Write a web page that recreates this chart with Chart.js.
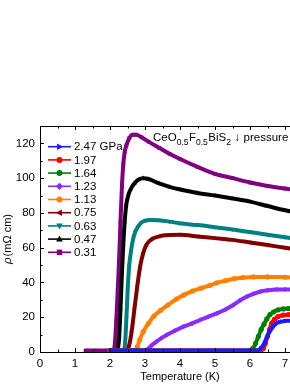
<!DOCTYPE html>
<html>
<head>
<meta charset="utf-8">
<script src="https://cdn.jsdelivr.net/npm/chart.js@4/dist/chart.umd.min.js"></script>
<style>
html, body { margin: 0; padding: 0; overflow: hidden; background: #fff; }
canvas { display: block; }
</style>
</head>
<body>
<canvas id="rho-chart" width="330" height="386" style="width:330px;height:386px"></canvas>
<script>
// pressures (GPa) and curve colours / markers, legend order
const pressureLabels = ['2.47 GPa', '1.97', '1.64', '1.23', '1.13', '0.75', '0.63', '0.47', '0.31'];
const xTicks = [0, 1, 2, 3, 4, 5, 6, 7, 8];
const yTicks = [0, 20, 40, 60, 80, 100, 120];

// temperature (K) / resistivity (mOhm cm)
const t247 = [2.0, 6.2, 6.3, 6.38, 6.46, 6.54, 6.62, 6.7, 6.78, 6.9, 7.05, 7.5, 8.0];
const r247 = [0.8, 0.8, 2, 4, 7.5, 11, 13.5, 15.5, 16.8, 17.5, 18, 18.2, 18.3];
const t197 = [2.0, 6.3, 6.38, 6.44, 6.5, 6.56, 6.62, 6.7, 6.8, 6.95, 7.1, 7.5, 8.0];
const r197 = [0.8, 0.8, 2, 5, 9, 13, 16.5, 18.8, 20.3, 21.2, 21.5, 21.7, 21.8];
const t164 = [2.0, 6.0, 6.08, 6.16, 6.24, 6.32, 6.4, 6.48, 6.57, 6.67, 6.8, 6.95, 7.1, 7.5, 8.0];
const r164 = [0.8, 0.8, 2, 5, 9, 13, 16, 19, 21.5, 23, 24.2, 24.8, 25, 25.2, 25.3];
const t123 = [2.0, 3.0, 3.1, 3.2, 3.33, 3.47, 3.62, 3.85, 4.1, 4.35, 4.57, 4.8, 5.05, 5.3, 5.52, 5.7, 5.9, 6.1, 6.3, 6.5, 6.76, 7.0, 7.5, 8.0];
const r123 = [0.8, 0.8, 2, 4, 6, 8, 9.8, 12.2, 14.6, 16.5, 18.4, 20.2, 22.2, 24.5, 27, 29.5, 31.8, 33.5, 34.8, 35.5, 36, 36, 36, 36];
const t113 = [2.0, 2.72, 2.78, 2.85, 2.95, 3.1, 3.25, 3.45, 3.65, 3.9, 4.1, 4.35, 4.6, 4.85, 5.05, 5.3, 5.55, 5.8, 6.1, 6.5, 7.0, 7.5, 8.0];
const r113 = [0.8, 0.8, 3, 7, 11.7, 16.5, 20.5, 24, 27, 30.5, 32.7, 35, 36.7, 38.3, 39.8, 41, 42.2, 42.8, 43.2, 43.2, 43, 42.8, 42.6];
const t075 = [2.0, 2.48, 2.55, 2.62, 2.7, 2.78, 2.86, 2.95, 3.05, 3.2, 3.4, 3.7, 4.0, 4.5, 5.0, 5.5, 6.0, 6.5, 7.0, 7.5, 8.0];
const r075 = [0.8, 0.8, 4, 12, 25, 38, 49, 57, 62, 65, 66.5, 67.3, 67.5, 66.5, 65.5, 64.5, 63, 61.5, 60, 58.5, 57];
const t063 = [2.0, 2.38, 2.43, 2.47, 2.51, 2.55, 2.6, 2.65, 2.72, 2.8, 2.9, 3.0, 3.15, 3.4, 3.7, 4.0, 4.5, 5.0, 5.5, 6.0, 6.5, 7.0, 7.5, 8.0];
const r063 = [0.8, 0.8, 5, 20, 38, 50, 58, 64, 69, 72, 74.5, 75.5, 76, 75.8, 75, 74, 73, 71.8, 70.5, 69, 67.5, 66, 64.5, 63];
const t047 = [2.0, 2.2, 2.26, 2.3, 2.34, 2.38, 2.42, 2.46, 2.52, 2.6, 2.7, 2.8, 2.95, 3.1, 3.4, 3.7, 4.0, 4.5, 5.0, 5.5, 6.0, 6.5, 7.0, 7.5, 8.0];
const r047 = [0.8, 0.8, 8, 25, 45, 62, 75, 84, 90, 94, 97, 99, 100, 99.5, 97, 95, 93.5, 91.5, 90, 88.3, 86.5, 84, 81.5, 79.5, 78];
const t031 = [1.3, 1.6, 1.9, 2.1, 2.14, 2.18, 2.22, 2.26, 2.3, 2.34, 2.38, 2.42, 2.47, 2.55, 2.65, 2.75, 2.9, 3.1, 3.4, 3.7, 4.0, 4.5, 5.0, 5.5, 6.0, 6.5, 7.0, 7.5, 8.0];
const r031 = [0.8, 0.8, 0.8, 1, 5, 18, 35, 53, 75, 95, 108, 115, 119, 123, 125, 125, 123.5, 121, 117.5, 114, 111, 106.5, 102.5, 100, 97.5, 95.5, 94, 92.5, 91];

const temps = [t247, t197, t164, t123, t113, t075, t063, t047, t031];
const rhos = [r247, r197, r164, r123, r113, r075, r063, r047, r031];
const colors = ['#1a1aff', '#ff0000', '#008000', '#8b2cff', '#ff8000', '#800000', '#008080', '#000000', '#800080'];
const markers = [['triangle', 90], ['circle', 0], ['circle', 0], ['rectRot', 0], ['circle', 0],
                 ['triangle', 270], ['triangle', 180], ['triangle', 0], ['rect', 0]];

Chart.defaults.font.family = '"Liberation Sans", Arial, sans-serif';
Chart.defaults.color = '#000';

const datasets = pressureLabels.map((lab, i) => ({
    label: lab,
    data: temps[i].map((t, k) => ({x: t, y: rhos[i][k]})),
    borderColor: colors[i],
    backgroundColor: colors[i],
    borderWidth: 4,
    pointStyle: markers[i][0],
    rotation: markers[i][1],
    pointRadius: 2.6,
    pointBorderWidth: 0,
    cubicInterpolationMode: 'monotone'
}));

function drawMarker(ctx, style, rot, x, y, r) {
    ctx.save();
    ctx.translate(x, y);
    ctx.rotate(rot * Math.PI / 180);
    ctx.beginPath();
    if (style === 'circle') {
        ctx.arc(0, 0, r, 0, Math.PI * 2);
    } else if (style === 'rect') {
        ctx.rect(-r * 0.9, -r * 0.9, r * 1.8, r * 1.8);
    } else if (style === 'rectRot') {
        ctx.moveTo(0, -r * 1.2); ctx.lineTo(r * 1.2, 0); ctx.lineTo(0, r * 1.2); ctx.lineTo(-r * 1.2, 0);
    } else {
        ctx.moveTo(0, -r * 1.2); ctx.lineTo(r * 1.1, r * 0.8); ctx.lineTo(-r * 1.1, r * 0.8);
    }
    ctx.closePath();
    ctx.fill();
    ctx.restore();
}

// inward ticks, frame, legend, y title and the sample name
const decor = {
    id: 'decor',
    afterDraw(chart) {
        const ctx = chart.ctx, a = chart.chartArea;
        const xs = chart.scales.x, ys = chart.scales.y;
        ctx.save();
        ctx.strokeStyle = '#000';
        ctx.lineWidth = 1;
        ctx.beginPath();
        ctx.moveTo(a.left, a.top + 0.5); ctx.lineTo(a.right, a.top + 0.5);
        ctx.moveTo(a.right - 0.5, a.top); ctx.lineTo(a.right - 0.5, a.bottom);
        for (let t = 0; t <= 8; t += 0.5) {
            const px = Math.round(xs.getPixelForValue(t)) + 0.5;
            const len = Number.isInteger(t) ? 4 : 2.5;
            ctx.moveTo(px, a.bottom); ctx.lineTo(px, a.bottom - len);
            ctx.moveTo(px, a.top); ctx.lineTo(px, a.top + len);
        }
        for (let v = 0; v <= 130; v += 10) {
            const py = Math.round(ys.getPixelForValue(v)) + 0.5;
            const len = v % 20 === 0 ? 4 : 2.5;
            ctx.moveTo(a.left, py); ctx.lineTo(a.left + len, py);
        }
        ctx.stroke();

        // legend
        ctx.font = '11.5px "Liberation Sans", Arial, sans-serif';
        ctx.textBaseline = 'middle';
        ctx.textAlign = 'left';
        pressureLabels.forEach((lab, i) => {
            const y = 146.7 + i * 13.2;
            ctx.strokeStyle = colors[i];
            ctx.fillStyle = colors[i];
            ctx.lineWidth = 1.6;
            ctx.beginPath();
            ctx.moveTo(48, y); ctx.lineTo(71, y);
            ctx.stroke();
            drawMarker(ctx, markers[i][0], markers[i][1], 59.5, y, 3);
            ctx.fillStyle = '#000';
            ctx.fillText(lab, 74, y + 0.5);
        });

        // y title: italic rho + unit
        ctx.save();
        ctx.translate(11, (a.top + a.bottom) / 2);
        ctx.rotate(-Math.PI / 2);
        ctx.textBaseline = 'alphabetic';
        const rhoFont = 'italic 11.5px "Liberation Sans", Arial, sans-serif';
        const unitFont = '11px "Liberation Sans", Arial, sans-serif';
        ctx.font = rhoFont;
        const w1 = ctx.measureText('ρ').width;
        ctx.font = unitFont;
        const w2 = ctx.measureText('(mΩ cm)').width;
        let sx = -(w1 + w2 + 1) / 2;
        ctx.font = rhoFont;
        ctx.fillText('ρ', sx, 0);
        ctx.font = unitFont;
        ctx.fillText('(mΩ cm)', sx + w1 + 1, 0);
        ctx.restore();

        // CeO0.5F0.5BiS2 ↓ pressure
        const big = '11.5px "Liberation Sans", Arial, sans-serif';
        const small = '8.5px "Liberation Sans", Arial, sans-serif';
        const parts = [['CeO', 0], ['0.5', 1], ['F', 0], ['0.5', 1], ['BiS', 0], ['2', 1], [' \u2193 pressure', 0]];
        let x = 153;
        ctx.textBaseline = 'alphabetic';
        ctx.fillStyle = '#000';
        parts.forEach(([s, sub]) => {
            ctx.font = sub ? small : big;
            ctx.fillText(s, x, sub ? 145 : 141);
            x += ctx.measureText(s).width + (sub ? 0.5 : 0);
        });
        ctx.restore();
    }
};

const rhoConfig = {
    type: 'line',
    data: {datasets: datasets},
    options: {
        responsive: false,
        animation: false,
        layout: {padding: {top: 126, right: 10, left: 0, bottom: 0}},
        plugins: {legend: {display: false}, tooltip: {enabled: false}},
        scales: {
            x: {
                type: 'linear',
                min: 0,
                max: 8,
                afterBuildTicks: s => { s.ticks = xTicks.map(v => ({value: v})); },
                afterFit: s => { s.height = 34; },
                grid: {display: false, drawTicks: false},
                border: {display: true, color: '#000', width: 1},
                ticks: {padding: 5, font: {size: 11.5}, color: '#000', maxRotation: 0},
                title: {display: true, text: 'Temperature (K)', font: {size: 11}, color: '#000', padding: {top: 0, bottom: 2}}
            },
            y: {
                type: 'linear',
                min: 0,
                max: 130,
                afterBuildTicks: s => { s.ticks = yTicks.map(v => ({value: v})); },
                afterFit: s => { s.width = 40; },
                grid: {display: false, drawTicks: false},
                border: {display: true, color: '#000', width: 1},
                ticks: {padding: 5, font: {size: 11.5}, color: '#000'},
                title: {display: false}
            }
        }
    },
    plugins: [decor]
};

const rhoChart = new Chart(document.getElementById('rho-chart'), rhoConfig);
</script>
</body>
</html>
